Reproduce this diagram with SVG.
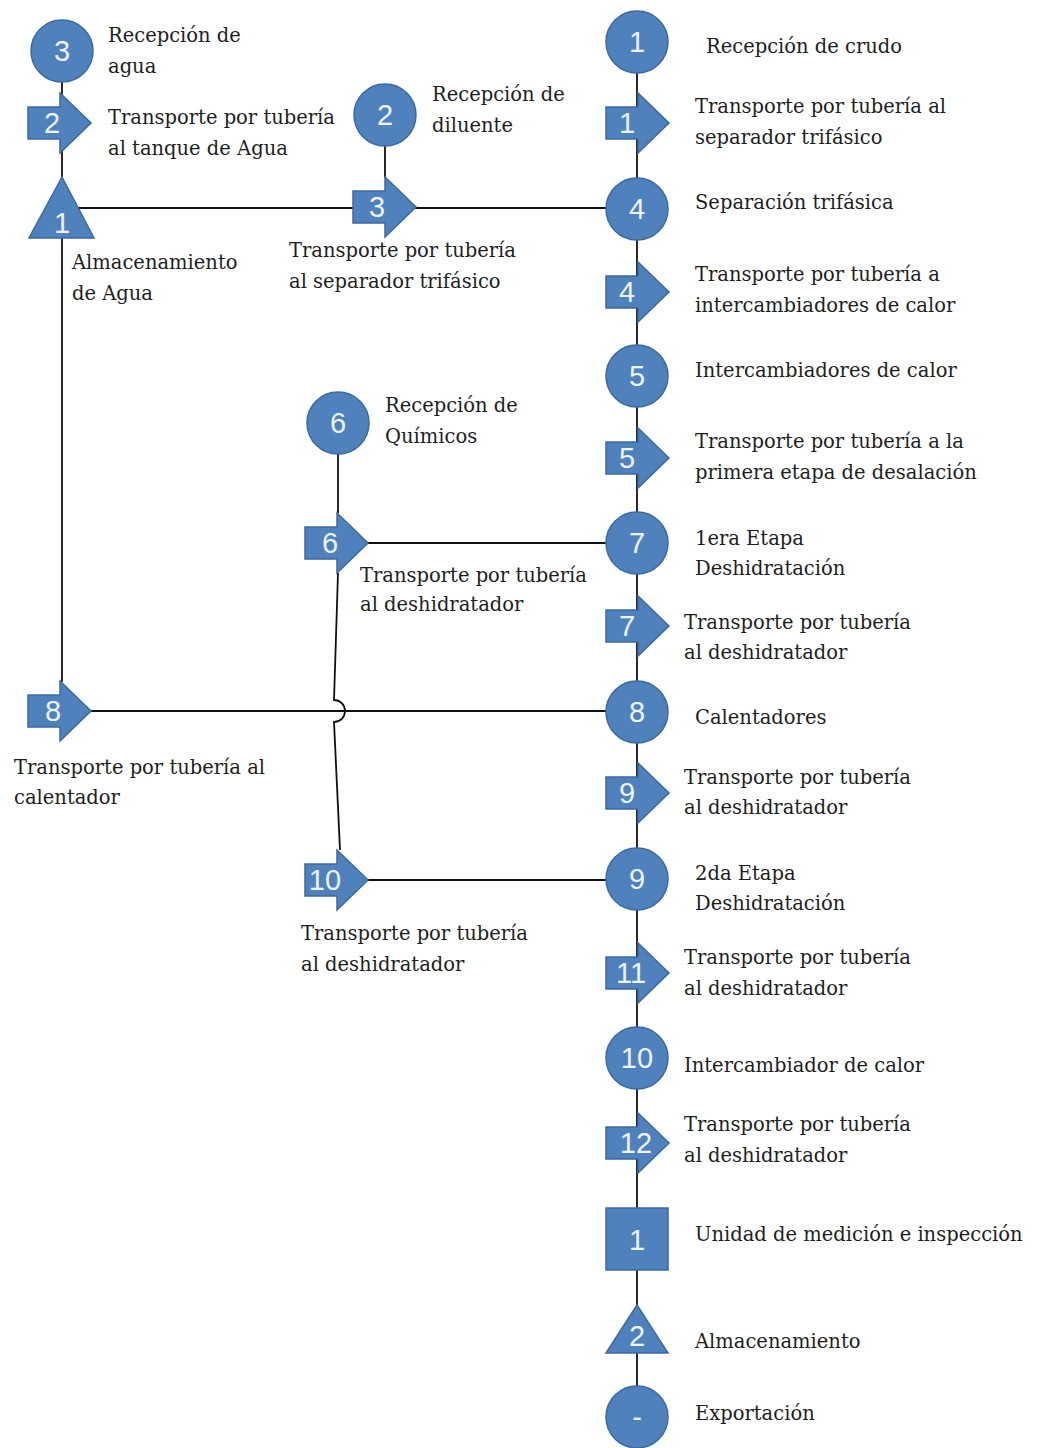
<svg xmlns="http://www.w3.org/2000/svg" width="1041" height="1448" viewBox="0 0 1041 1448">
<style>
.sh{fill:#4F81BD;stroke:#3B6A9E;stroke-width:1.5}
.num{font-family:"Liberation Sans",Arial,sans-serif;font-size:29px;fill:#EEF3FA;text-anchor:middle}
.lbl{font-family:"DejaVu Serif","Liberation Serif",serif;font-size:19.5px;fill:#1E1E1E}
.ln{stroke:#111;stroke-width:1.8;fill:none}
</style>
<defs>
<path id="arr" d="M0,-16 H32 V-30 L63,0 L32,30 V16 H0 Z"/>
</defs>
<rect width="1041" height="1448" fill="#fff"/>
<g id="connectors">
<line class="ln" x1="637" y1="42" x2="637" y2="1417"/>
<line class="ln" x1="62" y1="51" x2="62" y2="682"/>
<line class="ln" x1="62" y1="208" x2="637" y2="208"/>
<line class="ln" x1="385" y1="115" x2="385" y2="178"/>
<line class="ln" x1="338" y1="423" x2="338" y2="513"/>
<path class="ln" d="M338,573 L334,700 A11,11 0 0 1 334,722 L340,850"/>
<line class="ln" x1="338" y1="543" x2="637" y2="543"/>
<line class="ln" x1="62" y1="711" x2="637" y2="711"/>
<line class="ln" x1="338" y1="880" x2="637" y2="880"/>
</g>
<g id="c3"><circle class="sh" cx="62" cy="51" r="31"/><text class="num" x="62" y="61">3</text>
<text class="lbl" x="108" y="42">Recepción de</text><text class="lbl" x="108" y="73">agua</text></g>
<g id="a2"><use href="#arr" class="sh" x="28" y="123"/><text class="num" x="52" y="133">2</text>
<text class="lbl" x="108" y="124">Transporte por tubería</text><text class="lbl" x="108" y="155">al tanque de Agua</text></g>
<g id="t1"><polygon class="sh" points="62,177 94,238 29,238"/><text class="num" x="62" y="233">1</text>
<text class="lbl" x="72" y="269">Almacenamiento</text><text class="lbl" x="72" y="300">de Agua</text></g>
<g id="c2"><circle class="sh" cx="385" cy="115" r="31"/><text class="num" x="385" y="125">2</text>
<text class="lbl" x="432" y="101">Recepción de</text><text class="lbl" x="432" y="132">diluente</text></g>
<g id="a3"><use href="#arr" class="sh" x="353" y="207"/><text class="num" x="377" y="217">3</text>
<text class="lbl" x="289" y="257">Transporte por tubería</text><text class="lbl" x="289" y="288">al separador trifásico</text></g>
<g id="c1"><circle class="sh" cx="637" cy="42" r="31"/><text class="num" x="637" y="52">1</text>
<text class="lbl" x="706" y="53">Recepción de crudo</text></g>
<g id="a1"><use href="#arr" class="sh" x="606" y="123"/><text class="num" x="627" y="133">1</text>
<text class="lbl" x="695" y="113">Transporte por tubería al</text><text class="lbl" x="695" y="144">separador trifásico</text></g>
<g id="c4"><circle class="sh" cx="637" cy="209" r="31"/><text class="num" x="637" y="219">4</text>
<text class="lbl" x="695" y="209">Separación trifásica</text></g>
<g id="a4"><use href="#arr" class="sh" x="606" y="292"/><text class="num" x="627" y="302">4</text>
<text class="lbl" x="695" y="281">Transporte por tubería a</text><text class="lbl" x="695" y="312">intercambiadores de calor</text></g>
<g id="c5"><circle class="sh" cx="637" cy="376" r="31"/><text class="num" x="637" y="386">5</text>
<text class="lbl" x="695" y="377">Intercambiadores de calor</text></g>
<g id="c6"><circle class="sh" cx="338" cy="423" r="31"/><text class="num" x="338" y="433">6</text>
<text class="lbl" x="385" y="412">Recepción de</text><text class="lbl" x="385" y="443">Químicos</text></g>
<g id="a5"><use href="#arr" class="sh" x="606" y="458"/><text class="num" x="627" y="468">5</text>
<text class="lbl" x="695" y="448">Transporte por tubería a la</text><text class="lbl" x="695" y="479">primera etapa de desalación</text></g>
<g id="a6"><use href="#arr" class="sh" x="305" y="543"/><text class="num" x="330" y="553">6</text>
<text class="lbl" x="360" y="582">Transporte por tubería</text><text class="lbl" x="360" y="611">al deshidratador</text></g>
<g id="c7"><circle class="sh" cx="637" cy="543" r="31"/><text class="num" x="637" y="553">7</text>
<text class="lbl" x="695" y="545">1era Etapa</text><text class="lbl" x="695" y="575">Deshidratación</text></g>
<g id="a7"><use href="#arr" class="sh" x="606" y="626"/><text class="num" x="627" y="636">7</text>
<text class="lbl" x="684" y="629">Transporte por tubería</text><text class="lbl" x="684" y="659">al deshidratador</text></g>
<g id="a8"><use href="#arr" class="sh" x="28" y="711"/><text class="num" x="53" y="721">8</text>
<text class="lbl" x="14" y="774">Transporte por tubería al</text><text class="lbl" x="14" y="804">calentador</text></g>
<g id="c8"><circle class="sh" cx="637" cy="712" r="31"/><text class="num" x="637" y="722">8</text>
<text class="lbl" x="695" y="724">Calentadores</text></g>
<g id="a9"><use href="#arr" class="sh" x="606" y="793"/><text class="num" x="627" y="803">9</text>
<text class="lbl" x="684" y="784">Transporte por tubería</text><text class="lbl" x="684" y="814">al deshidratador</text></g>
<g id="a10"><use href="#arr" class="sh" x="305" y="880"/><text class="num" x="325" y="890">10</text>
<text class="lbl" x="301" y="940">Transporte por tubería</text><text class="lbl" x="301" y="971">al deshidratador</text></g>
<g id="c9"><circle class="sh" cx="637" cy="879" r="31"/><text class="num" x="637" y="889">9</text>
<text class="lbl" x="695" y="880">2da Etapa</text><text class="lbl" x="695" y="910">Deshidratación</text></g>
<g id="a11"><use href="#arr" class="sh" x="606" y="973"/><text class="num" x="631" y="983">11</text>
<text class="lbl" x="684" y="964">Transporte por tubería</text><text class="lbl" x="684" y="995">al deshidratador</text></g>
<g id="c10"><circle class="sh" cx="637" cy="1058" r="31"/><text class="num" x="637" y="1068">10</text>
<text class="lbl" x="684" y="1072">Intercambiador de calor</text></g>
<g id="a12"><use href="#arr" class="sh" x="606" y="1143"/><text class="num" x="636" y="1153">12</text>
<text class="lbl" x="684" y="1131">Transporte por tubería</text><text class="lbl" x="684" y="1162">al deshidratador</text></g>
<g id="s1"><rect class="sh" x="606" y="1208" width="62" height="62"/><text class="num" x="637" y="1250">1</text>
<text class="lbl" x="695" y="1241">Unidad de medición e inspección</text></g>
<g id="t2"><polygon class="sh" points="637,1305 668,1353 606,1353"/><text class="num" x="637" y="1346">2</text>
<text class="lbl" x="695" y="1348">Almacenamiento</text></g>
<g id="cx"><circle class="sh" cx="637" cy="1417" r="31"/><text class="num" x="637" y="1427">-</text>
<text class="lbl" x="695" y="1420">Exportación</text></g>
</svg>
